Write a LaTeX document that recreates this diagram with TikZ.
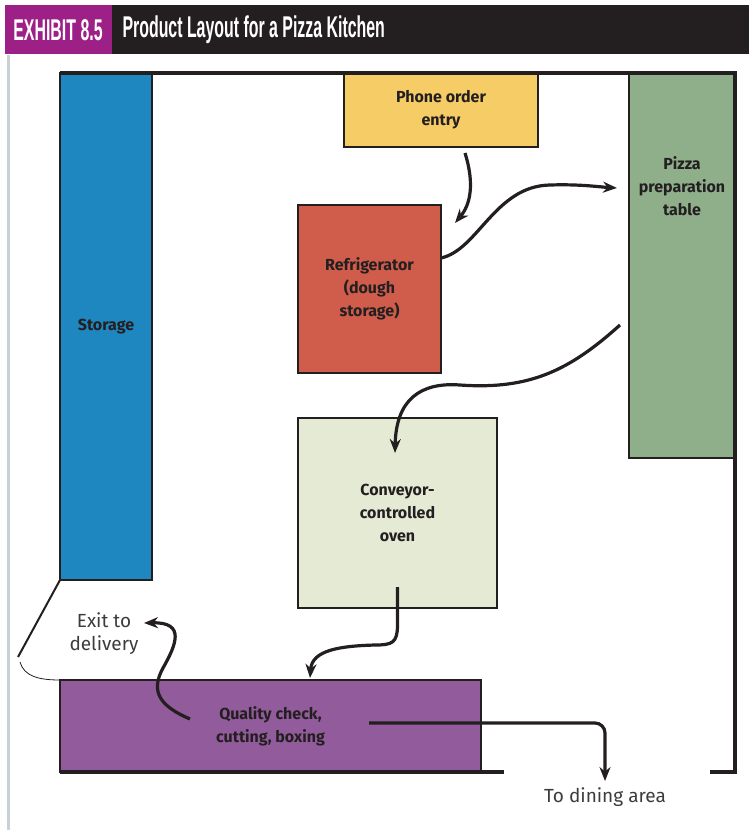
\documentclass[tikz,border=0pt]{standalone}
\usepackage{fontspec}
\setmainfont{Fira Sans}
\newfontfamily\headfont[FakeStretch=0.53]{Liberation Sans}
\usepackage{tikz}
\usetikzlibrary{calc,arrows.meta}

\definecolor{ink}{HTML}{231F20}
\definecolor{exhibit}{HTML}{9D2087}
\definecolor{rule}{HTML}{C6D3D6}
\definecolor{notegray}{HTML}{3C3C3C}
\definecolor{storagec}{HTML}{1F87C0}
\definecolor{phonec}{HTML}{F6CC66}
\definecolor{prepc}{HTML}{8FAF8B}
\definecolor{fridgec}{HTML}{D05D4B}
\definecolor{ovenc}{HTML}{E5EAD5}
\definecolor{checkc}{HTML}{925B9B}

\begin{document}
\begin{tikzpicture}[x=1pt,y=-1pt,>={Stealth[length=14pt,width=11pt]},
  every node/.style={font=\fontsize{16}{23}\selectfont\bfseries,align=center,text=ink},
  station/.style={draw=ink,line width=2.5pt,inner sep=0pt,outer sep=0pt,anchor=north west},
  flow/.style={->,line width=3.2pt,draw=ink},
  wall/.style={line width=4pt,draw=ink},
  note/.style={font=\fontsize{19}{23}\selectfont,text=notegray},
  head/.style={font=\headfont\bfseries\fontsize{30}{30}\selectfont,text=white}]
\useasboundingbox (0,0) rectangle (749,830);

% title bar
\fill[exhibit] (5,5) rectangle (112,54);
\fill[ink] (112,5) rectangle (749,54);
\node[head] (exno) at (58,30) {EXHIBIT 8.5};
\node[head,anchor=west] (title) at (119,30) {Product Layout for a Pizza Kitchen};
\draw[rule,line width=3pt] (8,55) -- (8,830);

% work stations
\node[station,fill=storagec,minimum width=92pt,minimum height=507pt] (storage) at (60,73) {Storage};
\node[station,fill=phonec,minimum width=194pt,minimum height=74pt] (phone) at (344,73) {Phone order\\entry};
\node[station,fill=prepc,minimum width=106pt,minimum height=385pt] (pizza) at (629,73) {};
\node (preplbl) at ($(pizza.north)+(0,113)$) {Pizza\\preparation\\table};
\node[station,fill=fridgec,minimum width=143pt,minimum height=168pt] (fridge) at (298,205) {Refrigerator\\(dough\\storage)};
\node[station,fill=ovenc,minimum width=199pt,minimum height=190pt] (oven) at (298,418) {Conveyor-\\controlled\\oven};
\node[station,fill=checkc,minimum width=421pt,minimum height=92pt] (quality) at (60,680) {Quality check,\\cutting, boxing};

\node[note] (exit) at (104,634) {Exit to\\delivery};
\node[note] (dining) at (605,797) {To dining area};

% walls and door
\draw[wall] (storage.north west) -- (pizza.north east) -- (735,772) -- (710,772);
\draw[wall] (quality.south west) -- (504,772);
\coordinate (doorleaf) at (18,657);
\draw[ink,line width=2pt] (storage.south west) -- (doorleaf);
\draw[ink,line width=0.8pt] (20,662) .. controls (24,676) and (38,680) .. (quality.north west);

% flow of an order
\draw[flow] ($(phone.south)+(24,6)$) .. controls (475,185) and (470,205) .. ($(fridge.north east)+(14,18)$);
\draw[flow] ($(fridge.north east)+(0,53)$) .. controls (478,250) and (495,186) .. (550,185)
  .. controls (580,184) and (600,187) .. ($(pizza.north west)+(-12,115)$);
\draw[flow] ($(pizza.west)+(-9,59.5)$) .. controls (570,370) and (530,390) .. (460,385)
  .. controls (420,382) and (396,400) .. ($(oven.north)+(-2.5,35)$);
\draw[flow] ($(oven.south)+(0,-21)$) -- (397.5,625) .. controls (397.5,643) and (392,645) .. (375,645)
  .. controls (340,646) and (312,650) .. ($(quality.north)+(39.5,-2)$);
\draw[flow] ($(quality.west)+(130,-7)$) .. controls (160,706) and (150,692) .. (163,668)
  .. controls (176,645) and (186,622) .. ($(exit.east)+(2,-11)$);
\draw[flow,rounded corners=10pt] ($(quality.center)+(98.5,-3)$) -| ($(dining.north)+(0,-3)$);
\end{tikzpicture}
\end{document}
